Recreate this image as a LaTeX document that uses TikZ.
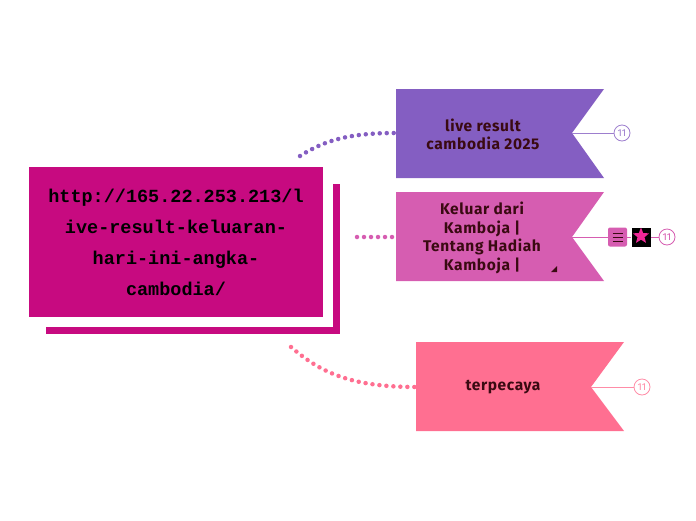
\documentclass[tikz,border=0pt]{standalone}
\usepackage{fontspec}
\setmainfont{Fira Sans}
\newfontfamily\titlefont{Liberation Mono}
\newfontfamily\flagfont{Fira Sans}[LetterSpace=4]
\usetikzlibrary{shapes.geometric,calc}
\definecolor{mainmag}{HTML}{C70A80}
\definecolor{cpurple}{HTML}{845EC2}
\definecolor{cpink}{HTML}{D65DB1}
\definecolor{ccoral}{HTML}{FF6F91}
\definecolor{txtdark}{HTML}{3A0A12}
\tikzset{
  flagtext/.style={align=center,text=txtdark,font=\flagfont\bfseries\fontsize{15.5}{18.5}\selectfont,inner sep=0pt},
  dotline/.style={line width=4.5pt,line cap=round,dash pattern=on 0pt off 7pt},
  numcirc/.style={circle,draw=#1,fill=white,line width=0.8pt,minimum size=16pt,inner sep=0pt,text=#1,font=\fontsize{10}{10}\selectfont},
  iconbox/.style={minimum size=19pt,inner sep=0pt}
}
\begin{document}
\begin{tikzpicture}[x=1pt,y=-1pt]
\useasboundingbox (0,0) rectangle (696,520);
% main box shadow
\fill[mainmag] (333,184) rectangle (340,334);
\fill[mainmag] (46,327) rectangle (340,334);
% main box
\fill[mainmag] (29,167) rectangle (323,317);
\node[align=center,text=black,font=\titlefont\bfseries\fontsize{18.5}{31}\selectfont,inner sep=0pt] (main) at (176,242)
 {http://165.22.253.213/l\\ive-result-keluaran-\\hari-ini-angka-\\cambodia/};
% flag 1
\fill[cpurple] (396,89) -- (604,89) -- (572,133) -- (604,178) -- (396,178) -- cycle;
\coordinate (f1w) at (396,133);
\coordinate (f1e) at (572,133);
\coordinate (m1) at (300,156);
\node[flagtext] (n1) at (483,134.5) {live result\\cambodia 2025};
\node[numcirc=cpurple!80] (c1) at (622,133) {11};
\draw[cpurple!80,line width=1pt] (f1e) -- (c1);
\draw[cpurple,dotline] (m1) .. controls (325,140) and (350,133) .. (f1w);
% flag 2
\fill[cpink] (396,192) -- (604,192) -- (572,237) -- (604,281) -- (396,281) -- cycle;
\coordinate (f2w) at (396,237);
\coordinate (f2e) at (572,237);
\coordinate (m2) at (357,237);
\node[flagtext] (n2) at (482,238) {Keluar dari\\Kamboja |\\Tentang Hadiah\\Kamboja |};
\fill[txtdark] (557,266) -- (557,272) -- (551,272) -- cycle;
\node[iconbox,fill=cpink,rounded corners=2pt] (i1) at (617.5,237) {};
\foreach \yy in {-4,0,4} \draw[txtdark,line width=1pt] ($(i1.center)+(-5,\yy)$) -- ($(i1.center)+(5,\yy)$);
\node[iconbox,fill=black] (i2) at (641,237) {};
\node[star,star points=5,star point ratio=2.3,fill=magenta!80!pink,minimum size=17pt,inner sep=0pt] (st) at (641,236) {};
\node[numcirc=cpink] (c2) at (667,237) {11};
\draw[cpink,line width=1pt] (f2e) -- (i1.west);
\draw[cpink,line width=1pt] (i1.east) -- (i2.west);
\draw[cpink,line width=1pt] (i2.east) -- (c2.west);
\draw[cpink,dotline] (m2) -- (f2w);
% flag 3
\fill[ccoral] (416,342) -- (624,342) -- (591,387) -- (624,431) -- (416,431) -- cycle;
\coordinate (f3w) at (416,387);
\coordinate (f3e) at (591,387);
\coordinate (m3) at (291,347);
\node[flagtext] (n3) at (503,387) {terpecaya};
\node[numcirc=ccoral!80] (c3) at (642,387) {11};
\draw[ccoral!80,line width=1pt] (f3e) -- (c3);
\draw[ccoral,dotline] (m3) .. controls (320,372) and (350,387) .. (f3w);
\end{tikzpicture}
\end{document}
